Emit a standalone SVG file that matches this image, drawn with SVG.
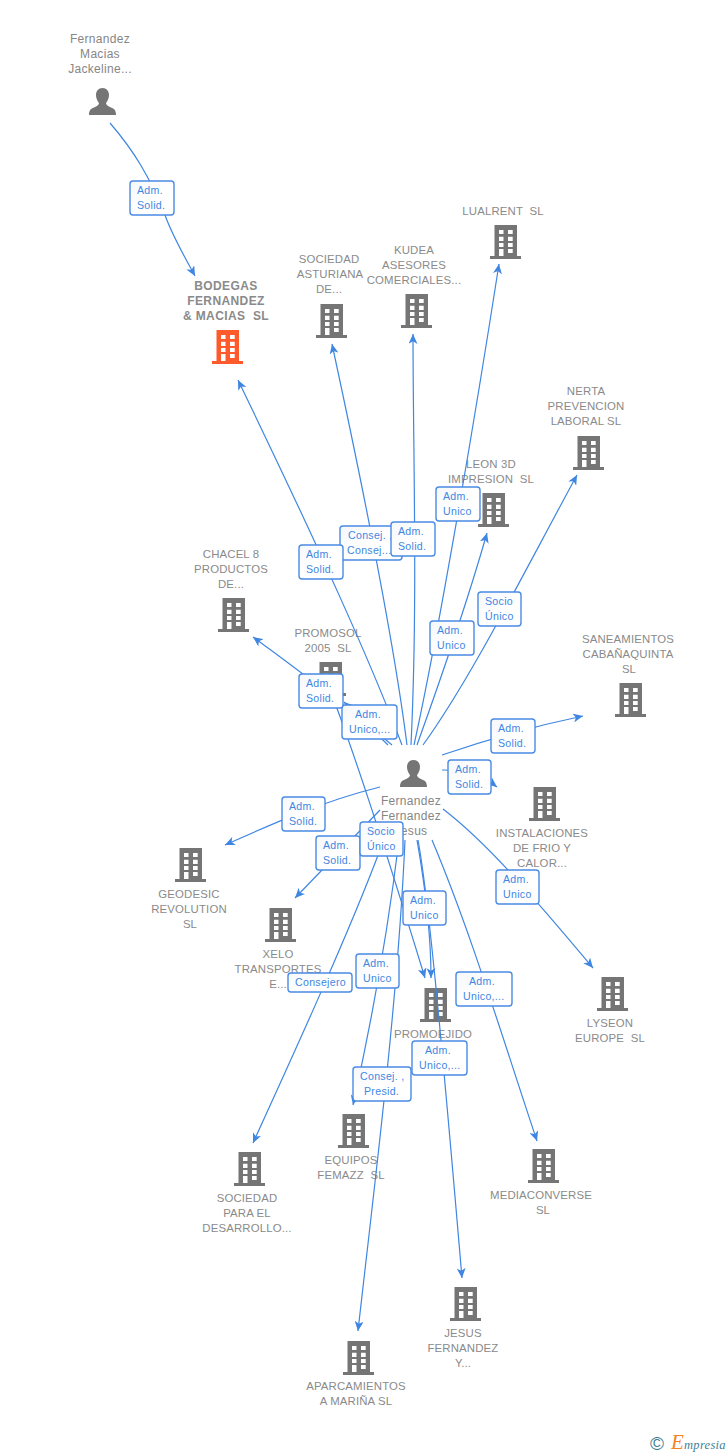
<svg xmlns="http://www.w3.org/2000/svg" width="728" height="1455" viewBox="0 0 728 1455">
<style>
text{font-family:"Liberation Sans",Arial,sans-serif}
.n{font-size:11.4px;fill:#8a8a8a;text-anchor:middle;letter-spacing:.15px}
.p{font-size:12px;fill:#868686;text-anchor:middle;letter-spacing:.3px}
.b{font-size:12px;font-weight:bold;fill:#8a8a8a;text-anchor:middle;letter-spacing:.4px}
.e{fill:none;stroke:#3f86e2;stroke-width:1.2;marker-end:url(#a)}
.l{fill:url(#g);stroke:#4a8be4;stroke-width:1.4}
.t{font-size:10.6px;fill:#3f86e2;letter-spacing:.3px}
.i{fill:#757575}
</style>
<defs>
<marker id="a" markerUnits="userSpaceOnUse" markerWidth="10" markerHeight="9" refX="11" refY="5" orient="auto" viewBox="0 0 11 10"><path d="M0,0 L11,5 L0,10 L3,5 z" fill="#3f86e2"/></marker>
<linearGradient id="g" x1="0" y1="0" x2="1" y2="1"><stop offset="0" stop-color="#f5f7fa"/><stop offset=".5" stop-color="#fff"/></linearGradient>
<path id="bld" fill-rule="evenodd" d="M4.500,0H27V31H31V34H0V31H4.500ZM9,5V9H13.500V5ZM18,5V9H22.700V5ZM9,11.700V16H13.500V11.700ZM18,11.700V16H22.700V11.700ZM9,18V22H13.500V18ZM18,18V22H22.700V18ZM9,24V31H13.500V24ZM18,24V28H22.700V24Z"/>
<path id="per" d="M13.500,0C17.500,0 20,3 20,7C20,10.500 18.500,13 17,15C17,17 19,18 22,19.500C25,20.800 27,22 27,27H0C0,22 2,20.800 5,19.500C8,18 10,17 10,15C8.500,13 7,10.500 7,7C7,3 9.500,0 13.500,0Z"/>
</defs>
<rect width="728" height="1455" fill="#fff"/>

<g id="n-jackeline"><text class="p" x="100" y="43">Fernandez</text><text class="p" x="100" y="58">Macias</text><text class="p" x="100" y="73">Jackeline...</text><use href="#per" x="89" y="88" class="i"/></g>
<g id="n-bodegas"><text class="b" x="226" y="290">BODEGAS</text><text class="b" x="226" y="305">FERNANDEZ</text><text class="b" x="226" y="320" xml:space="preserve">&amp; MACIAS  SL</text><use href="#bld" x="212" y="330" fill="#ff5a2b"/></g>
<g id="n-asturiana"><text class="n" x="329" y="263">SOCIEDAD</text><text class="n" x="330" y="278">ASTURIANA</text><text class="n" x="329" y="293">DE...</text><use href="#bld" x="316" y="304" class="i"/></g>
<g id="n-kudea"><text class="n" x="414" y="254">KUDEA</text><text class="n" x="414" y="269">ASESORES</text><text class="n" x="414" y="284">COMERCIALES...</text><use href="#bld" x="401" y="294" class="i"/></g>
<g id="n-lualrent"><text class="n" x="503" y="215" xml:space="preserve">LUALRENT  SL</text><use href="#bld" x="490" y="225" class="i"/></g>
<g id="n-nerta"><text class="n" x="586" y="395">NERTA</text><text class="n" x="586" y="410">PREVENCION</text><text class="n" x="586" y="425">LABORAL SL</text><use href="#bld" x="573" y="436" class="i"/></g>
<g id="n-leon"><text class="n" x="491" y="468">LEON 3D</text><text class="n" x="491" y="483" xml:space="preserve">IMPRESION  SL</text><use href="#bld" x="478" y="493" class="i"/></g>
<g id="n-chacel"><text class="n" x="231" y="558">CHACEL 8</text><text class="n" x="231" y="573">PRODUCTOS</text><text class="n" x="231" y="588">DE...</text><use href="#bld" x="218" y="598" class="i"/></g>
<g id="n-promosol"><text class="n" x="328" y="637">PROMOSOL</text><text class="n" x="328" y="652" xml:space="preserve">2005  SL</text><use href="#bld" x="315" y="662" class="i"/></g>
<g id="n-saneamientos"><text class="n" x="628" y="643">SANEAMIENTOS</text><text class="n" x="628" y="658">CABAÑAQUINTA</text><text class="n" x="629" y="673">SL</text><use href="#bld" x="615" y="683" class="i"/></g>
<g id="n-instalaciones"><text class="n" x="542" y="837">INSTALACIONES</text><text class="n" x="542" y="852">DE FRIO Y</text><text class="n" x="542" y="867">CALOR...</text><use href="#bld" x="529" y="787" class="i"/></g>
<g id="n-geodesic"><text class="n" x="189" y="898">GEODESIC</text><text class="n" x="189" y="913">REVOLUTION</text><text class="n" x="190" y="928">SL</text><use href="#bld" x="175" y="848" class="i"/></g>
<g id="n-xelo"><text class="n" x="278" y="958">XELO</text><text class="n" x="278" y="973">TRANSPORTES</text><text class="n" x="278" y="988">E...</text><use href="#bld" x="265" y="908" class="i"/></g>
<g id="n-promoejido"><text class="n" x="433" y="1038">PROMOEJIDO</text><use href="#bld" x="420" y="988" class="i"/></g>
<g id="n-lyseon"><text class="n" x="610" y="1027">LYSEON</text><text class="n" x="610" y="1042" xml:space="preserve">EUROPE  SL</text><use href="#bld" x="597" y="977" class="i"/></g>
<g id="n-equipos"><text class="n" x="351" y="1164">EQUIPOS</text><text class="n" x="351" y="1179" xml:space="preserve">FEMAZZ  SL</text><use href="#bld" x="338" y="1114" class="i"/></g>
<g id="n-sociedad-para"><text class="n" x="247" y="1202">SOCIEDAD</text><text class="n" x="247" y="1217">PARA EL</text><text class="n" x="247" y="1232">DESARROLLO...</text><use href="#bld" x="234" y="1152" class="i"/></g>
<g id="n-mediaconverse"><text class="n" x="541" y="1199">MEDIACONVERSE</text><text class="n" x="543" y="1214">SL</text><use href="#bld" x="528" y="1149" class="i"/></g>
<g id="n-jesus-y"><text class="n" x="463" y="1337">JESUS</text><text class="n" x="463" y="1352">FERNANDEZ</text><text class="n" x="463" y="1367">Y...</text><use href="#bld" x="450" y="1287" class="i"/></g>
<g id="n-aparcamientos"><text class="n" x="356" y="1390">APARCAMIENTOS</text><text class="n" x="356" y="1405">A MARIÑA SL</text><use href="#bld" x="343" y="1341" class="i"/></g>
<g id="n-fernandez-jesus"><text class="p" x="411" y="805">Fernandez</text><text class="p" x="411" y="820">Fernandez</text><text class="p" x="411" y="835">Jesus</text><use href="#per" x="400" y="760" class="i"/></g>

<g id="connectors">
<path class="e" d="M110,123C135,152 150,178 165,215C172,235 182,252 195,276"/>
<path class="e" d="M402,745C370,660 320,550 238,380"/>
<path class="e" d="M407,745C395,650 370,520 332,344"/>
<path class="e" d="M411,745C418,600 413,450 413,334"/>
<path class="e" d="M414,745C435,650 470,450 499,264"/>
<path class="e" d="M417,745C435,695 465,610 487,533"/>
<path class="e" d="M423,745C470,680 520,580 577,475"/>
<path class="e" d="M392,745C365,722 330,693 253,637"/>
<path class="e" d="M388,745L344,702"/>
<path class="e" d="M335,703C360,770 395,880 425,978"/>
<path class="e" d="M442,755C480,742 530,727 583,716"/>
<path class="e" d="M442,770Q475,770 497,787"/>
<path class="e" d="M443,809C490,845 540,905 593,968"/>
<path class="e" d="M380,787C320,802 270,825 225,845"/>
<path class="e" d="M380,810L295,898"/>
<path class="e" d="M380,850C350,930 300,1040 253,1143"/>
<path class="e" d="M399,840C388,930 372,1020 353,1105"/>
<path class="e" d="M405,840C398,1000 375,1180 358,1331"/>
<path class="e" d="M417,840C424,880 431,930 431,978"/>
<path class="e" d="M418,840C428,895 440,1020 462,1278"/>
<path class="e" d="M432,840C470,930 500,1030 537,1141"/>
</g>

<g id="edge-labels">
<g><rect class="l" x="130" y="181" width="44" height="34" rx="3"/><text class="t" x="137" y="194">Adm.</text><text class="t" x="137" y="209">Solid.</text></g>
<g><rect class="l" x="340" y="526" width="62" height="34" rx="3"/><text class="t" x="348" y="539">Consej. ,</text><text class="t" x="347" y="554">Consej....</text></g>
<g><rect class="l" x="299" y="545" width="44" height="34" rx="3"/><text class="t" x="306" y="558">Adm.</text><text class="t" x="306" y="573">Solid.</text></g>
<g><rect class="l" x="391" y="522" width="44" height="34" rx="3"/><text class="t" x="398" y="535">Adm.</text><text class="t" x="398" y="550">Solid.</text></g>
<g><rect class="l" x="436" y="487" width="44" height="34" rx="3"/><text class="t" x="443" y="500">Adm.</text><text class="t" x="443" y="515">Unico</text></g>
<g><rect class="l" x="430" y="621" width="44" height="34" rx="3"/><text class="t" x="437" y="634">Adm.</text><text class="t" x="437" y="649">Unico</text></g>
<g><rect class="l" x="478" y="592" width="43" height="34" rx="3"/><text class="t" x="485" y="605">Socio</text><text class="t" x="485" y="620">Único</text></g>
<g><rect class="l" x="342" y="705" width="55" height="34" rx="3"/><text class="t" x="355" y="718">Adm.</text><text class="t" x="349" y="733">Unico,...</text></g>
<g><rect class="l" x="299" y="674" width="44" height="34" rx="3"/><text class="t" x="306" y="687">Adm.</text><text class="t" x="306" y="702">Solid.</text></g>
<g><rect class="l" x="491" y="719" width="44" height="34" rx="3"/><text class="t" x="498" y="732">Adm.</text><text class="t" x="498" y="747">Solid.</text></g>
<g><rect class="l" x="448" y="760" width="43" height="34" rx="3"/><text class="t" x="455" y="773">Adm.</text><text class="t" x="455" y="788">Solid.</text></g>
<g><rect class="l" x="282" y="797" width="43" height="34" rx="3"/><text class="t" x="289" y="810">Adm.</text><text class="t" x="289" y="825">Solid.</text></g>
<g><rect class="l" x="316" y="836" width="44" height="34" rx="3"/><text class="t" x="323" y="849">Adm.</text><text class="t" x="323" y="864">Solid.</text></g>
<g><rect class="l" x="360" y="822" width="43" height="34" rx="3"/><text class="t" x="367" y="835">Socio</text><text class="t" x="367" y="850">Único</text></g>
<g><rect class="l" x="403" y="891" width="43" height="34" rx="3"/><text class="t" x="410" y="904">Adm.</text><text class="t" x="410" y="919">Unico</text></g>
<g><rect class="l" x="496" y="870" width="43" height="34" rx="3"/><text class="t" x="503" y="883">Adm.</text><text class="t" x="503" y="898">Unico</text></g>
<g><rect class="l" x="356" y="954" width="43" height="34" rx="3"/><text class="t" x="363" y="967">Adm.</text><text class="t" x="363" y="982">Unico</text></g>
<g><rect class="l" x="288" y="973" width="64" height="19" rx="3"/><text class="t" x="295" y="986">Consejero</text></g>
<g><rect class="l" x="456" y="972" width="56" height="34" rx="3"/><text class="t" x="469" y="985">Adm.</text><text class="t" x="463" y="1000">Unico,...</text></g>
<g><rect class="l" x="412" y="1041" width="55" height="34" rx="3"/><text class="t" x="425" y="1054">Adm.</text><text class="t" x="419" y="1069">Unico,...</text></g>
<g><rect class="l" x="353" y="1067" width="58" height="34" rx="3"/><text class="t" x="360" y="1080">Consej. ,</text><text class="t" x="364" y="1095">Presid.</text></g>
</g>

<g id="footer">
<text x="650" y="1450" font-size="19" fill="#3f7f95">©</text>
<text x="671" y="1449" font-size="21" font-style="italic" fill="#f58220" style="font-family:'Liberation Serif',serif">E</text>
<text x="684" y="1449" font-size="12.500" font-style="italic" fill="#3f7f95" style="font-family:'Liberation Serif',serif;letter-spacing:.3px">mpresia</text>
</g>
</svg>
